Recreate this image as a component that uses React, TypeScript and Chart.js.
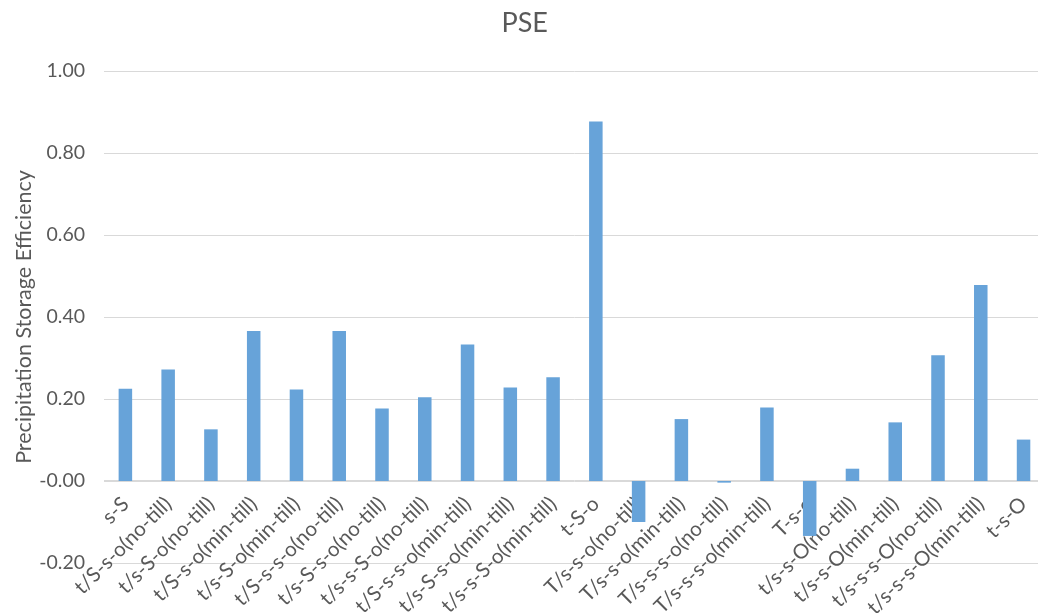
import React, { useEffect, useRef } from "react";
import { Chart, registerables } from "chart.js";

Chart.register(...registerables);

const categories: string[] = [
  "s-S",
  "t/S-s-o(no-till)",
  "t/s-S-o(no-till)",
  "t/S-s-o(min-till)",
  "t/s-S-o(min-till)",
  "t/S-s-s-o(no-till)",
  "t/s-S-s-o(no-till)",
  "t/s-s-S-o(no-till)",
  "t/S-s-s-o(min-till)",
  "t/s-S-s-o(min-till)",
  "t/s-s-S-o(min-till)",
  "t-S-o",
  "T/s-s-o(no-till)",
  "T/s-s-o(min-till)",
  "T/s-s-s-o(no-till)",
  "T/s-s-s-o(min-till)",
  "T-s-o",
  "t/s-s-O(no-till)",
  "t/s-s-O(min-till)",
  "t/s-s-s-O(no-till)",
  "t/s-s-s-O(min-till)",
  "t-s-O",
];

const pseValues: number[] = [
  0.225, 0.272, 0.126, 0.366, 0.223, 0.366, 0.177, 0.204, 0.333, 0.228, 0.253,
  0.877, -0.1, 0.151, -0.004, 0.179, -0.134, 0.03, 0.143, 0.307, 0.478, 0.101,
];

const yMin = -0.2;
const yMax = 1.0;
const yStep = 0.2;

const TEXT = "#595959";
const GRID = "#d9d9d9";
const FONT = "Lato, 'Open Sans', sans-serif";

export default function App() {
  const canvasRef = useRef<HTMLCanvasElement | null>(null);

  useEffect(() => {
    if (!canvasRef.current) return;
    const chart = new Chart(canvasRef.current, {
      type: "bar",
      data: {
        labels: categories,
        datasets: [
          {
            label: "PSE",
            data: pseValues,
            backgroundColor: "#67A3D9",
            borderWidth: 0,
            barPercentage: 0.316,
            categoryPercentage: 1,
          },
        ],
      },
      options: {
        animation: false,
        responsive: true,
        maintainAspectRatio: false,
        layout: { padding: { top: 0, bottom: 50, left: 0, right: 2.6 } },
        plugins: {
          legend: { display: false },
          tooltip: { enabled: false },
          title: {
            display: true,
            text: "PSE",
            color: TEXT,
            font: { family: FONT, size: 27, weight: "normal" },
            padding: { top: 7, bottom: 31.6 },
          },
        },
        scales: {
          x: {
            position: { y: 0 } as any,
            grid: { display: false, drawTicks: false },
            border: { display: true, color: GRID, width: 1 },
            ticks: {
              autoSkip: false,
              maxRotation: 45,
              minRotation: 45,
              padding: 11,
              color: TEXT,
              font: { family: FONT, size: 20.5 },
            },
          },
          y: {
            min: yMin,
            max: yMax,
            ticks: {
              stepSize: yStep,
              padding: 19,
              color: TEXT,
              font: { family: FONT, size: 19.5 },
              callback: (v: any) => Number(v).toFixed(2),
            },
            grid: { color: GRID, drawTicks: false, lineWidth: 1 },
            border: { display: false },
            title: {
              display: true,
              text: "Precipitation Storage Efficiency",
              color: TEXT,
              font: { family: FONT, size: 21.5 },
              padding: { top: 11, bottom: 0 },
            },
            afterFit: (s: any) => {
              s.width = 104;
            },
          },
        },
      },
    });
    return () => chart.destroy();
  }, []);

  return (
    <div
      style={{
        position: "fixed",
        left: 0,
        top: 0,
        width: 1038,
        height: 613,
        overflow: "hidden",
        background: "#fff",
      }}
    >
      <div style={{ position: "relative", width: 1052, height: 613 }}>
        <canvas ref={canvasRef} />
      </div>
    </div>
  );
}
